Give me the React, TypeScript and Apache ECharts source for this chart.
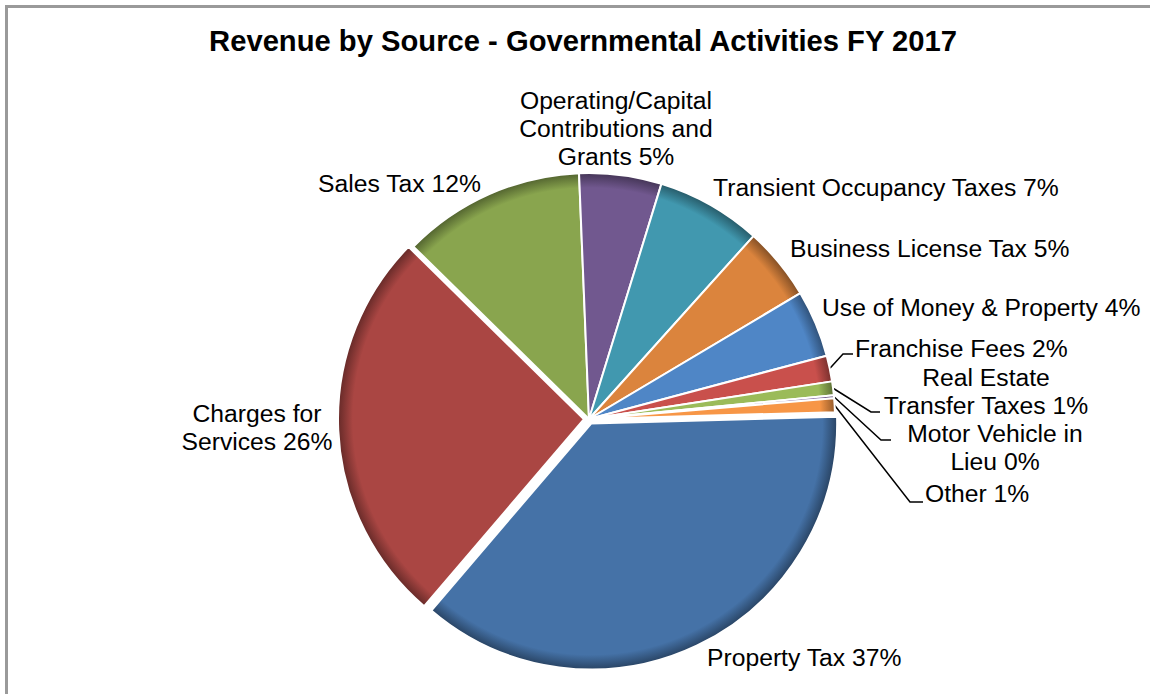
import React, { useEffect, useRef } from 'react';
import * as echarts from 'echarts';

const chartTitle = 'Revenue by Source - Governmental Activities FY 2017';

const categories = [
  'Property Tax',
  'Charges for\nServices',
  'Sales Tax',
  'Operating/Capital\nContributions and\nGrants',
  'Transient Occupancy Taxes',
  'Business License Tax',
  'Use of Money & Property',
  'Franchise Fees',
  'Real Estate\nTransfer Taxes',
  'Motor Vehicle in\nLieu',
  'Other',
];

const values = [36.7, 26.1, 12.0, 5.4, 6.9, 4.8, 4.4, 1.7, 0.9, 0.2, 0.9];

const colors = [
  '#4572A7', '#AA4643', '#89A54E', '#71588F', '#4198AF', '#DB843D',
  '#4F86C6', '#C9504C', '#9BBB59', '#8064A2', '#F79646',
];

const explodedSlices = [0, 1];

// label layout (anchor positions), not data
const labelAnchors: { x: number; y: number; align: string }[] = [
  { x: 707, y: 657, align: 'left' },
  { x: 257, y: 427, align: 'center' },
  { x: 318, y: 183, align: 'left' },
  { x: 616, y: 128, align: 'center' },
  { x: 713, y: 187, align: 'left' },
  { x: 790, y: 248, align: 'left' },
  { x: 822, y: 307, align: 'left' },
  { x: 855, y: 348, align: 'left' },
  { x: 986, y: 391, align: 'center' },
  { x: 995, y: 447, align: 'center' },
  { x: 925, y: 493, align: 'left' },
];

const leaderBends: Record<number, number[][]> = {
  7: [[843, 354], [853, 354]],
  8: [[871, 412], [880, 412]],
  9: [[881, 440], [891, 440]],
  10: [[910, 502], [923, 502]],
};

const CX = 589;
const CY = 419;
const R = 246;
const START = 1.6;
const EXPLODE = 5;

function darken(hex: string, k: number) {
  const n = parseInt(hex.slice(1), 16);
  const r = Math.round(((n >> 16) & 255) * k);
  const g = Math.round(((n >> 8) & 255) * k);
  const b = Math.round((n & 255) * k);
  return `rgb(${r},${g},${b})`;
}

function sliceFill(base: string, cx: number, cy: number) {
  return {
    type: 'radial',
    x: cx,
    y: cy,
    r: R,
    global: true,
    colorStops: [
      { offset: 0, color: base },
      { offset: 0.94, color: base },
      { offset: 1, color: darken(base, 0.6) },
    ],
  };
}

const FONT = '"Liberation Sans", Arial, Helvetica, sans-serif';
const HIDDEN = { color: 'rgba(0,0,0,0)', borderWidth: 0 };

export default function App() {
  const ref = useRef<HTMLDivElement>(null);

  useEffect(() => {
    if (!ref.current) return;
    const chart = echarts.init(ref.current, undefined, { renderer: 'svg' });

    const total = values.reduce((s, v) => s + v, 0);
    const midAngle = (i: number) => {
      let cum = 0;
      for (let j = 0; j < i; j++) cum += values[j];
      return ((START - ((cum + values[i] / 2) / total) * 360) * Math.PI) / 180;
    };

    const mainData = categories.map((name, i) => ({
      name,
      value: values[i],
      itemStyle: explodedSlices.includes(i)
        ? HIDDEN
        : { color: sliceFill(colors[i], CX, CY) as any },
      labelLine: { show: leaderBends[i] !== undefined },
    }));

    const explodedSeries = explodedSlices.map((k) => {
      const a = midAngle(k);
      const cx = CX + Math.cos(a) * EXPLODE;
      const cy = CY - Math.sin(a) * EXPLODE;
      return {
        type: 'pie',
        name: categories[k],
        center: [cx, cy],
        radius: R,
        startAngle: START,
        clockwise: true,
        silent: true,
        emphasis: { disabled: true },
        label: { show: false },
        labelLine: { show: false },
        itemStyle: { borderColor: '#ffffff', borderWidth: 2 },
        data: categories.map((name, i) => ({
          name,
          value: values[i],
          itemStyle: i === k ? { color: sliceFill(colors[i], cx, cy) as any } : HIDDEN,
        })),
      };
    });

    chart.setOption({
      animation: false,
      backgroundColor: '#ffffff',
      graphic: [
        {
          type: 'rect',
          shape: { x: 6.5, y: 6.5, width: 1170, height: 720 },
          style: { fill: 'none', stroke: '#9a9a9a', lineWidth: 3 },
          silent: true,
        },
        {
          type: 'text',
          x: 583,
          y: 41,
          style: {
            text: chartTitle,
            fontFamily: FONT,
            fontSize: 29.2,
            fontWeight: 'bold',
            fill: '#000',
            align: 'center',
            verticalAlign: 'middle',
          },
          silent: true,
        },
      ],
      series: [
        {
          type: 'pie',
          name: 'Revenue by Source',
          center: [CX, CY],
          radius: R,
          startAngle: START,
          clockwise: true,
          avoidLabelOverlap: false,
          percentPrecision: 0,
          emphasis: { disabled: true },
          itemStyle: { borderColor: '#ffffff', borderWidth: 2 },
          label: {
            show: true,
            position: 'outside',
            alignTo: 'none',
            overflow: 'none',
            formatter: '{b} {d}%',
            color: '#000',
            fontFamily: FONT,
            fontSize: 24.7,
            lineHeight: 28,
          },
          labelLine: {
            show: true,
            length: 5,
            length2: 5,
            lineStyle: { color: '#000', width: 1.5 },
          },
          labelLayout: (params: any) => {
            const i = params.dataIndex;
            const a = labelAnchors[i];
            const res: any = { x: a.x, y: a.y, align: a.align, verticalAlign: 'middle' };
            const bends = leaderBends[i];
            if (bends && params.labelLinePoints) {
              const p0 = params.labelLinePoints[0];
              res.labelLinePoints = [p0, bends[0], bends[1]];
            }
            return res;
          },
          data: mainData,
        },
        ...explodedSeries,
      ],
    });

    return () => chart.dispose();
  }, []);

  return (
    <div
      ref={ref}
      style={{ position: 'fixed', left: 0, top: 0, width: 1150, height: 694 }}
    />
  );
}
